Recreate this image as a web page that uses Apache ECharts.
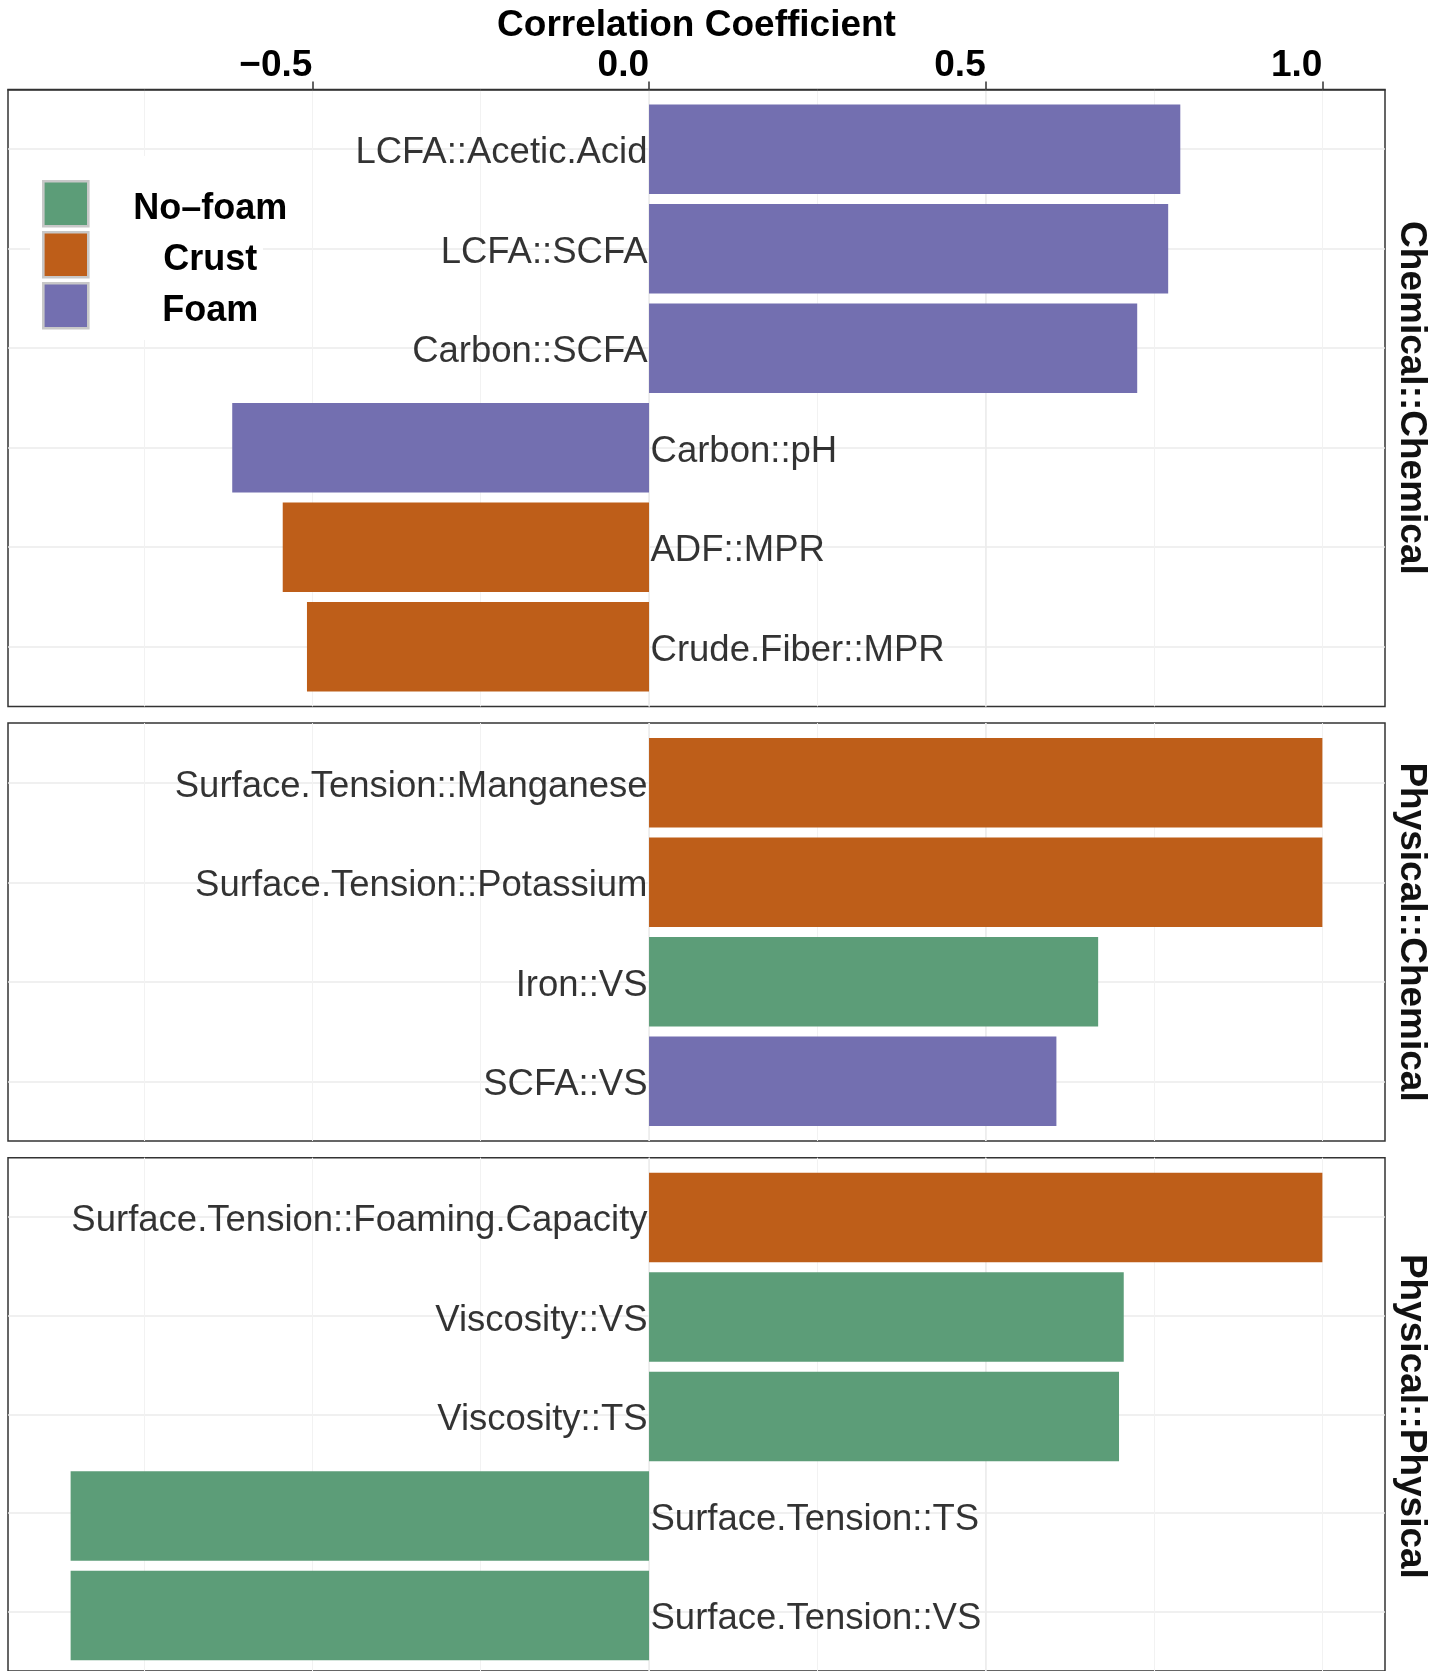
<!DOCTYPE html>
<html>
<head>
<meta charset="utf-8">
<title>Correlation Coefficient</title>
<script src="https://cdn.jsdelivr.net/npm/echarts@6/dist/echarts.min.js"></script>
<style>
  html, body { margin: 0; padding: 0; background: #ffffff; }
  #chart { width: 1447px; height: 1671px; }
</style>
</head>
<body>
<div id="chart"></div>
<script>
// ---- data ----
const groupNames = ['No\u2013foam', 'Crust', 'Foam'];
const panelNames = ['Chemical::Chemical', 'Physical::Chemical', 'Physical::Physical'];

const chemChemPairs  = ['LCFA::Acetic.Acid', 'LCFA::SCFA', 'Carbon::SCFA', 'Carbon::pH', 'ADF::MPR', 'Crude.Fiber::MPR'];
const chemChemValues = [0.789, 0.771, 0.725, -0.619, -0.544, -0.508];
const chemChemGroups = ['Foam', 'Foam', 'Foam', 'Foam', 'Crust', 'Crust'];

const physChemPairs  = ['Surface.Tension::Manganese', 'Surface.Tension::Potassium', 'Iron::VS', 'SCFA::VS'];
const physChemValues = [1.0, 1.0, 0.667, 0.605];
const physChemGroups = ['Crust', 'Crust', 'No\u2013foam', 'Foam'];

const physPhysPairs  = ['Surface.Tension::Foaming.Capacity', 'Viscosity::VS', 'Viscosity::TS', 'Surface.Tension::TS', 'Surface.Tension::VS'];
const physPhysValues = [1.0, 0.705, 0.698, -0.859, -0.859];
const physPhysGroups = ['Crust', 'No\u2013foam', 'No\u2013foam', 'No\u2013foam', 'No\u2013foam'];

const xTickValues = [-0.5, 0.0, 0.5, 1.0];

// ---- styling / layout ----
const groupColors = { 'No\u2013foam': '#5c9d78', 'Crust': '#be5e19', 'Foam': '#736fb0' };
const FONT = '"Liberation Sans", Helvetica, Arial, sans-serif';
const xMin = -0.952, xMax = 1.093;          // value range of every panel
const unit = 99.5;                           // pixels per category step
const panelGap = 16.7;
const firstTop = 89.5;
const plotLeft = 8, plotRight = 62;
const frameColor = '#333333';

const panels = [
  { name: panelNames[0], pairs: chemChemPairs, values: chemChemValues, groups: chemChemGroups },
  { name: panelNames[1], pairs: physChemPairs, values: physChemValues, groups: physChemGroups },
  { name: panelNames[2], pairs: physPhysPairs, values: physPhysValues, groups: physPhysGroups }
];

const fmtTick = v => (v < 0 ? '\u2212' + Math.abs(v).toFixed(1) : v.toFixed(1));

const grids = [], xAxes = [], yAxes = [], seriesList = [], graphics = [];
let panelTop = firstTop;

panels.forEach((p, k) => {
  const n = p.pairs.length;
  const h = (n + 0.2) * unit;

  // frame grid: border + grid lines
  const frameGrid = grids.length;
  grids.push({ left: plotLeft, top: panelTop, width: 1447 - plotLeft - plotRight, height: h,
               show: true, borderColor: frameColor, borderWidth: 1.5, backgroundColor: '#ffffff' });
  // bar grid: inset by a tenth of a step at top and bottom
  const barGrid = grids.length;
  grids.push({ left: plotLeft, top: panelTop + 0.1 * unit, width: 1447 - plotLeft - plotRight, height: n * unit });

  // minor vertical grid lines (every 0.25)
  xAxes.push({
    gridIndex: frameGrid, type: 'value', position: 'bottom', min: xMin, max: xMax,
    minInterval: 0.25, maxInterval: 0.25,
    axisLine: { show: false }, axisTick: { show: false }, axisLabel: { show: false },
    splitLine: { show: true, showMinLine: false, showMaxLine: false, lineStyle: { color: '#f2f2f2', width: 1 } }
  });
  // major vertical grid lines (every 0.5); the first panel carries the axis on top
  const isTop = k === 0;
  xAxes.push({
    gridIndex: frameGrid, type: 'value', position: 'top', min: xMin, max: xMax,
    minInterval: 0.5, maxInterval: 0.5,
    name: isTop ? 'Correlation Coefficient' : '',
    nameLocation: 'middle', nameGap: 45,
    nameTextStyle: { fontFamily: FONT, fontSize: 37, fontWeight: 'bold', color: '#000000' },
    axisLine: { show: isTop, lineStyle: { color: frameColor, width: 1.5 } },
    axisTick: { show: isTop, customValues: xTickValues, length: 8, lineStyle: { color: frameColor, width: 1.5 } },
    axisLabel: { show: isTop, customValues: xTickValues, margin: 5, formatter: fmtTick, align: 'right',
                 fontFamily: FONT, fontSize: 37, fontWeight: 'bold', color: '#000000' },
    splitLine: { show: true, showMinLine: false, showMaxLine: false, lineStyle: { color: '#ebebeb', width: 1.5 } }
  });
  // horizontal grid lines through each pair
  yAxes.push({
    gridIndex: frameGrid, type: 'value', inverse: true, min: 0.4, max: n + 0.6,
    minInterval: 1, maxInterval: 1,
    axisLine: { show: false }, axisTick: { show: false }, axisLabel: { show: false },
    splitLine: { show: true, showMinLine: false, showMaxLine: false, lineStyle: { color: '#ebebeb', width: 1.5 } }
  });

  // axes for the bars
  const barX = xAxes.length;
  xAxes.push({ gridIndex: barGrid, type: 'value', min: xMin, max: xMax, show: false });
  const barY = yAxes.length;
  yAxes.push({ gridIndex: barGrid, type: 'category', data: p.pairs, inverse: true, show: false });

  groupNames.forEach(g => {
    seriesList.push({
      name: g, type: 'bar', xAxisIndex: barX, yAxisIndex: barY,
      data: p.values.map((v, i) => (p.groups[i] === g ? v : '-')),
      barWidth: '90%', barGap: '-100%',
      itemStyle: { color: groupColors[g] },
      z: 3, silent: true
    });
  });

  // pair names anchored at zero: left of positive bars, right of negative bars
  seriesList.push({
    type: 'scatter', xAxisIndex: barX, yAxisIndex: barY,
    symbolSize: 1, itemStyle: { color: 'rgba(0,0,0,0)' }, z: 4, silent: true,
    data: p.values.map((v, i) => ({
      value: [0, i],
      label: { position: v >= 0 ? 'left' : 'right' }
    })),
    label: {
      show: true, distance: 1, offset: [0, 4],
      formatter: params => p.pairs[params.dataIndex],
      fontFamily: FONT, fontSize: 36.5, color: '#000000'
    }
  });

  // facet strip label
  graphics.push({
    type: 'text', x: 1411, y: panelTop + h / 2, rotation: -Math.PI / 2, silent: true, z: 5,
    style: {
      text: p.name, font: 'bold 37px ' + FONT, fill: '#111111',
      align: 'center', verticalAlign: 'middle', textAlign: 'center', textVerticalAlign: 'middle'
    }
  });

  panelTop += h + panelGap;
});

// white backing behind the legend
graphics.push({
  type: 'rect', z: 1, silent: true,
  shape: { x: 30, y: 156, width: 233, height: 184 },
  style: { fill: '#ffffff' }
});

const chart = echarts.init(document.getElementById('chart'), null, { renderer: 'canvas' });
chart.setOption({
  animation: false,
  backgroundColor: '#ffffff',
  textStyle: { fontFamily: FONT },
  grid: grids,
  xAxis: xAxes,
  yAxis: yAxes,
  legend: {
    data: groupNames, orient: 'vertical', left: 42, top: 180, padding: 0,
    icon: 'rect', itemWidth: 45, itemHeight: 45, itemGap: 3.4, selectedMode: false, z: 10,
    itemStyle: { borderColor: '#c8c8c8', borderWidth: 2.6 },
    formatter: name => '{c|' + name + '}',
    textStyle: {
      fontFamily: FONT, fontSize: 36, fontWeight: 'bold', color: '#000000',
      rich: { c: { width: 234, align: 'center', lineHeight: 34, fontFamily: FONT, fontSize: 36, fontWeight: 'bold', color: '#000000', padding: [10, 0, 0, 0] } }
    }
  },
  graphic: graphics,
  series: seriesList
});
</script>
</body>
</html>
